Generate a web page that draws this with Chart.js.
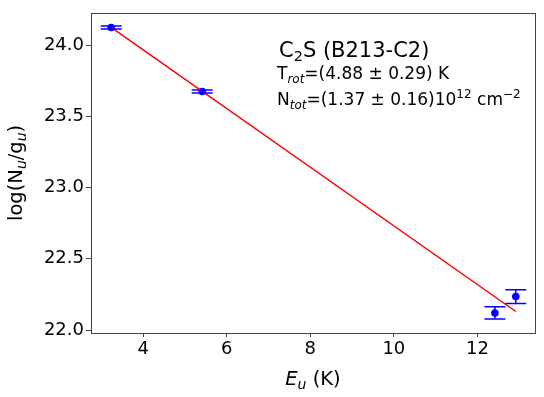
<!DOCTYPE html>
<html>
<head>
<meta charset="utf-8">
<script src="https://cdn.jsdelivr.net/npm/chart.js@4/dist/chart.umd.min.js"></script>
<style>
  html, body { margin: 0; padding: 0; background: #fff; }
  #wrap { width: 544px; height: 397px; }
</style>
</head>
<body>
<div id="wrap"><canvas id="chart" width="544" height="397"></canvas></div>
<script>
// data
const energies = [3.23, 5.41, 12.42, 12.92];
const logNg = [24.125, 23.675, 22.12, 22.235];
const errors = [0.01, 0.01, 0.043, 0.048];
const fitX = [3.23, 12.92];
const fitY = [24.125, 22.13];
const xTicks = [4, 6, 8, 10, 12];
const yTicks = [22.0, 22.5, 23.0, 23.5, 24.0];

const FONT = "'DejaVu Sans', sans-serif";

// draw a run of text pieces: [text, size, dy, italic]
function richText(ctx, parts, x, y) {
  let cx = x;
  parts.forEach(p => {
    ctx.font = (p[3] ? "italic " : "") + p[1] + "px " + FONT;
    ctx.fillText(p[0], cx, y + (p[2] || 0));
    cx += ctx.measureText(p[0]).width;
  });
  return cx - x;
}
function richWidth(ctx, parts) {
  let w = 0;
  parts.forEach(p => {
    ctx.font = (p[3] ? "italic " : "") + p[1] + "px " + FONT;
    w += ctx.measureText(p[0]).width;
  });
  return w;
}

const extras = {
  id: "extras",
  afterDatasetsDraw(chart) {
    const ctx = chart.ctx;
    const xs = chart.scales.x, ys = chart.scales.y;
    ctx.save();
    ctx.strokeStyle = "#0000ff";
    energies.forEach((e, i) => {
      const px = xs.getPixelForValue(e);
      const top = ys.getPixelForValue(logNg[i] + errors[i]);
      const bot = ys.getPixelForValue(logNg[i] - errors[i]);
      ctx.lineWidth = 1.5;
      ctx.beginPath();
      ctx.moveTo(px, top); ctx.lineTo(px, bot);
      ctx.moveTo(px - 10.5, top); ctx.lineTo(px + 10.5, top);
      ctx.moveTo(px - 10.5, bot); ctx.lineTo(px + 10.5, bot);
      ctx.stroke();
    });
    ctx.restore();
  },
  afterDraw(chart) {
    const ctx = chart.ctx;
    const a = chart.chartArea;
    ctx.save();
    // frame
    ctx.strokeStyle = "#444";
    ctx.lineWidth = 1;
    ctx.strokeRect(Math.round(a.left) + 0.5, Math.round(a.top) + 0.5,
      Math.round(a.right - a.left), Math.round(a.bottom - a.top));

    ctx.fillStyle = "#000";
    ctx.textBaseline = "alphabetic";
    ctx.textAlign = "left";

    // x title
    const xt = [["E", 19.5, 0, true], ["u", 14, 4, true], [" (K)", 19.5, 0, false]];
    const xw = richWidth(ctx, xt);
    richText(ctx, xt, (a.left + a.right) / 2 - xw / 2, 385);

    // y title
    ctx.save();
    ctx.translate(22, (a.top + a.bottom) / 2);
    ctx.rotate(-Math.PI / 2);
    const yt = [["log(N", 19.5, 0, false], ["u", 14, 4, true], ["/g", 19.5, 0, false], ["u", 14, 4, true], [")", 19.5, 0, false]];
    const yw = richWidth(ctx, yt);
    richText(ctx, yt, -yw / 2, 0);
    ctx.restore();

    // annotation
    richText(ctx, [["C", 21, 0], ["2", 14.5, 4], ["S (B213-C2)", 21, 0]], 279, 57);
    richText(ctx, [["T", 17, 0], ["rot", 12, 3.5, true], ["=(4.88 \u00b1 0.29) K", 17, 0]], 277, 79);
    richText(ctx, [["N", 17, 0], ["tot", 12, 3.5, true], ["=(1.37 \u00b1 0.16)10", 17, 0], ["12", 12, -7], [" cm", 17, 0], ["\u22122", 12, -7]], 277, 105);
    ctx.restore();
  }
};

new Chart(document.getElementById("chart"), {
  type: "scatter",
  data: {
    datasets: [{
      label: "fit",
      type: "line",
      data: fitX.map((x, i) => ({ x: x, y: fitY[i] })),
      borderColor: "#ff0000",
      borderWidth: 1.5,
      pointRadius: 0,
      fill: false
    }, {
      label: "data",
      data: energies.map((x, i) => ({ x: x, y: logNg[i] })),
      backgroundColor: "#0000ff",
      borderColor: "#0000ff",
      pointRadius: 3.8,
      borderWidth: 0
    }]
  },
  options: {
    responsive: false,
    animation: false,
    layout: { padding: { left: 0, top: 7, right: 9, bottom: 0 } },
    plugins: { legend: { display: false }, tooltip: { enabled: false } },
    scales: {
      x: {
        type: "linear",
        min: 2.747, max: 13.38,
        afterBuildTicks: s => { s.ticks = xTicks.map(v => ({ value: v })); },
        afterFit: s => { s.height = 64; },
        grid: { drawOnChartArea: false, tickLength: 4, color: "#444" },
        border: { display: false },
        ticks: { color: "#000", font: { family: FONT, size: 18 }, padding: 2, maxRotation: 0 }
      },
      y: {
        type: "linear",
        min: 21.979, max: 24.228,
        afterBuildTicks: s => { s.ticks = yTicks.map(v => ({ value: v })); },
        afterFit: s => { s.width = 91; },
        grid: { drawOnChartArea: false, tickLength: 5, color: "#444" },
        border: { display: false },
        ticks: { color: "#000", font: { family: FONT, size: 18 }, padding: 2, callback: v => v.toFixed(1) }
      }
    }
  },
  plugins: [extras]
});
</script>
</body>
</html>
